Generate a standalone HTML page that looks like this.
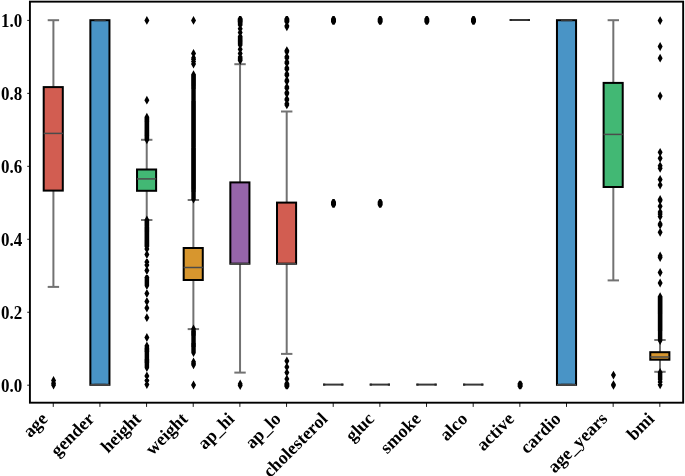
<!DOCTYPE html>
<html><head><meta charset="utf-8"><title>boxplot</title>
<style>html,body{margin:0;padding:0;background:#fff;width:685px;height:476px;overflow:hidden}svg{display:block;will-change:transform}</style>
</head><body>
<svg width="685" height="476" viewBox="0 0 685 476">
<style>.t,.ty{font-family:"Liberation Serif",serif;font-weight:bold;font-size:18px;fill:#000}.ty{font-size:17.6px}</style>
<rect width="685" height="476" fill="#fff"/>
<line x1="53.40" y1="20.2" x2="53.40" y2="87.1" stroke="#727272" stroke-width="2.0"/>
<line x1="53.40" y1="190.6" x2="53.40" y2="286.9" stroke="#727272" stroke-width="2.0"/>
<rect x="43.70" y="87.1" width="19.1" height="103.50" fill="#d25d51" stroke="#000" stroke-width="2.0" stroke-linejoin="miter"/>
<line x1="47.70" y1="20.2" x2="59.10" y2="20.2" stroke="#727272" stroke-width="2.0"/>
<line x1="47.70" y1="286.9" x2="59.10" y2="286.9" stroke="#727272" stroke-width="2.0"/>
<line x1="43.70" y1="133.4" x2="62.80" y2="133.4" stroke="#4b4b4b" stroke-width="1.5"/>
<path d="M53.55 376.10L56.05 380.50L53.55 384.90L51.05 380.50ZM53.55 378.90L56.05 383.30L53.55 387.70L51.05 383.30ZM53.55 380.60L56.05 385.00L53.55 389.40L51.05 385.00Z" fill="#000"/>
<line x1="100.06" y1="20.2" x2="100.06" y2="20.2" stroke="#727272" stroke-width="2.0"/>
<line x1="100.06" y1="384.8" x2="100.06" y2="384.8" stroke="#727272" stroke-width="2.0"/>
<rect x="90.36" y="20.2" width="19.1" height="364.60" fill="#4994c6" stroke="#000" stroke-width="2.0" stroke-linejoin="miter"/>
<line x1="94.36" y1="20.2" x2="105.76" y2="20.2" stroke="#363636" stroke-width="2.0"/>
<line x1="94.36" y1="384.8" x2="105.76" y2="384.8" stroke="#363636" stroke-width="2.0"/>
<line x1="90.36" y1="384.8" x2="109.46" y2="384.8" stroke="#4b4b4b" stroke-width="1.5"/>
<line x1="146.72" y1="139.8" x2="146.72" y2="169.5" stroke="#727272" stroke-width="2.0"/>
<line x1="146.72" y1="190.8" x2="146.72" y2="220.0" stroke="#727272" stroke-width="2.0"/>
<rect x="137.02" y="169.5" width="19.1" height="21.30" fill="#42b874" stroke="#000" stroke-width="2.0" stroke-linejoin="miter"/>
<line x1="141.02" y1="139.8" x2="152.42" y2="139.8" stroke="#727272" stroke-width="2.0"/>
<line x1="141.02" y1="220.0" x2="152.42" y2="220.0" stroke="#727272" stroke-width="2.0"/>
<line x1="137.02" y1="178.9" x2="156.12" y2="178.9" stroke="#4b4b4b" stroke-width="1.5"/>
<path d="M146.87 16.00L149.37 20.40L146.87 24.80L144.37 20.40ZM146.87 95.80L149.37 100.20L146.87 104.60L144.37 100.20ZM146.87 112.80L149.37 117.20L146.87 121.60L144.37 117.20ZM146.87 113.78L149.37 118.18L146.87 122.58L144.37 118.18ZM146.87 114.77L149.37 119.17L146.87 123.57L144.37 119.17ZM146.87 115.75L149.37 120.15L146.87 124.55L144.37 120.15ZM146.87 116.73L149.37 121.13L146.87 125.53L144.37 121.13ZM146.87 117.71L149.37 122.11L146.87 126.51L144.37 122.11ZM146.87 118.70L149.37 123.10L146.87 127.50L144.37 123.10ZM146.87 119.68L149.37 124.08L146.87 128.48L144.37 124.08ZM146.87 120.66L149.37 125.06L146.87 129.46L144.37 125.06ZM146.87 121.64L149.37 126.04L146.87 130.44L144.37 126.04ZM146.87 122.63L149.37 127.03L146.87 131.43L144.37 127.03ZM146.87 123.61L149.37 128.01L146.87 132.41L144.37 128.01ZM146.87 124.59L149.37 128.99L146.87 133.39L144.37 128.99ZM146.87 125.57L149.37 129.97L146.87 134.37L144.37 129.97ZM146.87 126.56L149.37 130.96L146.87 135.36L144.37 130.96ZM146.87 127.54L149.37 131.94L146.87 136.34L144.37 131.94ZM146.87 128.52L149.37 132.92L146.87 137.32L144.37 132.92ZM146.87 129.50L149.37 133.90L146.87 138.30L144.37 133.90ZM146.87 130.49L149.37 134.89L146.87 139.29L144.37 134.89ZM146.87 131.47L149.37 135.87L146.87 140.27L144.37 135.87ZM146.87 132.45L149.37 136.85L146.87 141.25L144.37 136.85ZM146.87 133.43L149.37 137.83L146.87 142.23L144.37 137.83ZM146.87 134.42L149.37 138.82L146.87 143.22L144.37 138.82ZM146.87 135.40L149.37 139.80L146.87 144.20L144.37 139.80ZM146.87 215.60L149.37 220.00L146.87 224.40L144.37 220.00ZM146.87 216.62L149.37 221.02L146.87 225.42L144.37 221.02ZM146.87 217.64L149.37 222.04L146.87 226.44L144.37 222.04ZM146.87 218.66L149.37 223.06L146.87 227.46L144.37 223.06ZM146.87 219.68L149.37 224.08L146.87 228.48L144.37 224.08ZM146.87 220.70L149.37 225.10L146.87 229.50L144.37 225.10ZM146.87 221.72L149.37 226.12L146.87 230.52L144.37 226.12ZM146.87 222.73L149.37 227.13L146.87 231.53L144.37 227.13ZM146.87 223.75L149.37 228.15L146.87 232.55L144.37 228.15ZM146.87 224.77L149.37 229.17L146.87 233.57L144.37 229.17ZM146.87 225.79L149.37 230.19L146.87 234.59L144.37 230.19ZM146.87 226.81L149.37 231.21L146.87 235.61L144.37 231.21ZM146.87 227.83L149.37 232.23L146.87 236.63L144.37 232.23ZM146.87 228.85L149.37 233.25L146.87 237.65L144.37 233.25ZM146.87 229.87L149.37 234.27L146.87 238.67L144.37 234.27ZM146.87 230.89L149.37 235.29L146.87 239.69L144.37 235.29ZM146.87 231.91L149.37 236.31L146.87 240.71L144.37 236.31ZM146.87 232.93L149.37 237.33L146.87 241.73L144.37 237.33ZM146.87 233.95L149.37 238.35L146.87 242.75L144.37 238.35ZM146.87 234.97L149.37 239.37L146.87 243.77L144.37 239.37ZM146.87 235.98L149.37 240.38L146.87 244.78L144.37 240.38ZM146.87 237.00L149.37 241.40L146.87 245.80L144.37 241.40ZM146.87 238.02L149.37 242.42L146.87 246.82L144.37 242.42ZM146.87 239.04L149.37 243.44L146.87 247.84L144.37 243.44ZM146.87 240.06L149.37 244.46L146.87 248.86L144.37 244.46ZM146.87 241.08L149.37 245.48L146.87 249.88L144.37 245.48ZM146.87 242.10L149.37 246.50L146.87 250.90L144.37 246.50ZM146.87 244.60L149.37 249.00L146.87 253.40L144.37 249.00ZM146.87 250.10L149.37 254.50L146.87 258.90L144.37 254.50ZM146.87 257.60L149.37 262.00L146.87 266.40L144.37 262.00ZM146.87 260.60L149.37 265.00L146.87 269.40L144.37 265.00ZM146.87 266.10L149.37 270.50L146.87 274.90L144.37 270.50ZM146.87 273.10L149.37 277.50L146.87 281.90L144.37 277.50ZM146.87 274.10L149.37 278.50L146.87 282.90L144.37 278.50ZM146.87 275.10L149.37 279.50L146.87 283.90L144.37 279.50ZM146.87 276.10L149.37 280.50L146.87 284.90L144.37 280.50ZM146.87 277.10L149.37 281.50L146.87 285.90L144.37 281.50ZM146.87 278.10L149.37 282.50L146.87 286.90L144.37 282.50ZM146.87 279.10L149.37 283.50L146.87 287.90L144.37 283.50ZM146.87 280.10L149.37 284.50L146.87 288.90L144.37 284.50ZM146.87 281.10L149.37 285.50L146.87 289.90L144.37 285.50ZM146.87 289.10L149.37 293.50L146.87 297.90L144.37 293.50ZM146.87 297.10L149.37 301.50L146.87 305.90L144.37 301.50ZM146.87 303.60L149.37 308.00L146.87 312.40L144.37 308.00ZM146.87 313.30L149.37 317.70L146.87 322.10L144.37 317.70ZM146.87 333.10L149.37 337.50L146.87 341.90L144.37 337.50ZM146.87 341.60L149.37 346.00L146.87 350.40L144.37 346.00ZM146.87 342.58L149.37 346.98L146.87 351.38L144.37 346.98ZM146.87 343.55L149.37 347.95L146.87 352.35L144.37 347.95ZM146.87 344.53L149.37 348.93L146.87 353.33L144.37 348.93ZM146.87 345.51L149.37 349.91L146.87 354.31L144.37 349.91ZM146.87 346.49L149.37 350.89L146.87 355.29L144.37 350.89ZM146.87 347.46L149.37 351.86L146.87 356.26L144.37 351.86ZM146.87 348.44L149.37 352.84L146.87 357.24L144.37 352.84ZM146.87 349.42L149.37 353.82L146.87 358.22L144.37 353.82ZM146.87 350.40L149.37 354.80L146.87 359.20L144.37 354.80ZM146.87 351.37L149.37 355.77L146.87 360.17L144.37 355.77ZM146.87 352.35L149.37 356.75L146.87 361.15L144.37 356.75ZM146.87 353.33L149.37 357.73L146.87 362.13L144.37 357.73ZM146.87 354.30L149.37 358.70L146.87 363.10L144.37 358.70ZM146.87 355.28L149.37 359.68L146.87 364.08L144.37 359.68ZM146.87 356.26L149.37 360.66L146.87 365.06L144.37 360.66ZM146.87 357.24L149.37 361.64L146.87 366.04L144.37 361.64ZM146.87 358.21L149.37 362.61L146.87 367.01L144.37 362.61ZM146.87 359.19L149.37 363.59L146.87 367.99L144.37 363.59ZM146.87 360.17L149.37 364.57L146.87 368.97L144.37 364.57ZM146.87 361.15L149.37 365.55L146.87 369.95L144.37 365.55ZM146.87 362.12L149.37 366.52L146.87 370.92L144.37 366.52ZM146.87 363.10L149.37 367.50L146.87 371.90L144.37 367.50ZM146.87 371.60L149.37 376.00L146.87 380.40L144.37 376.00ZM146.87 376.10L149.37 380.50L146.87 384.90L144.37 380.50ZM146.87 380.10L149.37 384.50L146.87 388.90L144.37 384.50Z" fill="#000"/>
<line x1="193.38" y1="200.0" x2="193.38" y2="248.0" stroke="#727272" stroke-width="2.0"/>
<line x1="193.38" y1="280.0" x2="193.38" y2="329.1" stroke="#727272" stroke-width="2.0"/>
<rect x="183.68" y="248.0" width="19.1" height="32.00" fill="#d7962e" stroke="#000" stroke-width="2.0" stroke-linejoin="miter"/>
<line x1="187.68" y1="200.0" x2="199.08" y2="200.0" stroke="#727272" stroke-width="2.0"/>
<line x1="187.68" y1="329.1" x2="199.08" y2="329.1" stroke="#727272" stroke-width="2.0"/>
<line x1="183.68" y1="267.5" x2="202.78" y2="267.5" stroke="#4b4b4b" stroke-width="1.5"/>
<path d="M193.53 16.00L196.03 20.40L193.53 24.80L191.03 20.40ZM193.53 49.10L196.03 53.50L193.53 57.90L191.03 53.50ZM193.53 53.60L196.03 58.00L193.53 62.40L191.03 58.00ZM193.53 55.10L196.03 59.50L193.53 63.90L191.03 59.50ZM193.53 57.10L196.03 61.50L193.53 65.90L191.03 61.50ZM193.53 59.60L196.03 64.00L193.53 68.40L191.03 64.00ZM193.53 70.30L196.03 74.70L193.53 79.10L191.03 74.70ZM193.53 71.30L196.03 75.70L193.53 80.10L191.03 75.70ZM193.53 72.30L196.03 76.70L193.53 81.10L191.03 76.70ZM193.53 73.31L196.03 77.71L193.53 82.11L191.03 77.71ZM193.53 74.31L196.03 78.71L193.53 83.11L191.03 78.71ZM193.53 75.31L196.03 79.71L193.53 84.11L191.03 79.71ZM193.53 76.31L196.03 80.71L193.53 85.11L191.03 80.71ZM193.53 77.32L196.03 81.72L193.53 86.12L191.03 81.72ZM193.53 78.32L196.03 82.72L193.53 87.12L191.03 82.72ZM193.53 79.32L196.03 83.72L193.53 88.12L191.03 83.72ZM193.53 80.32L196.03 84.72L193.53 89.12L191.03 84.72ZM193.53 81.33L196.03 85.73L193.53 90.13L191.03 85.73ZM193.53 82.33L196.03 86.73L193.53 91.13L191.03 86.73ZM193.53 83.33L196.03 87.73L193.53 92.13L191.03 87.73ZM193.53 84.33L196.03 88.73L193.53 93.13L191.03 88.73ZM193.53 85.34L196.03 89.74L193.53 94.14L191.03 89.74ZM193.53 86.34L196.03 90.74L193.53 95.14L191.03 90.74ZM193.53 87.34L196.03 91.74L193.53 96.14L191.03 91.74ZM193.53 88.34L196.03 92.74L193.53 97.14L191.03 92.74ZM193.53 89.35L196.03 93.75L193.53 98.15L191.03 93.75ZM193.53 90.35L196.03 94.75L193.53 99.15L191.03 94.75ZM193.53 91.35L196.03 95.75L193.53 100.15L191.03 95.75ZM193.53 92.35L196.03 96.75L193.53 101.15L191.03 96.75ZM193.53 93.36L196.03 97.76L193.53 102.16L191.03 97.76ZM193.53 94.36L196.03 98.76L193.53 103.16L191.03 98.76ZM193.53 95.36L196.03 99.76L193.53 104.16L191.03 99.76ZM193.53 96.36L196.03 100.76L193.53 105.16L191.03 100.76ZM193.53 97.37L196.03 101.77L193.53 106.17L191.03 101.77ZM193.53 98.37L196.03 102.77L193.53 107.17L191.03 102.77ZM193.53 99.37L196.03 103.77L193.53 108.17L191.03 103.77ZM193.53 100.37L196.03 104.77L193.53 109.17L191.03 104.77ZM193.53 101.38L196.03 105.78L193.53 110.18L191.03 105.78ZM193.53 102.38L196.03 106.78L193.53 111.18L191.03 106.78ZM193.53 103.38L196.03 107.78L193.53 112.18L191.03 107.78ZM193.53 104.38L196.03 108.78L193.53 113.18L191.03 108.78ZM193.53 105.38L196.03 109.78L193.53 114.18L191.03 109.78ZM193.53 106.39L196.03 110.79L193.53 115.19L191.03 110.79ZM193.53 107.39L196.03 111.79L193.53 116.19L191.03 111.79ZM193.53 108.39L196.03 112.79L193.53 117.19L191.03 112.79ZM193.53 109.39L196.03 113.79L193.53 118.19L191.03 113.79ZM193.53 110.40L196.03 114.80L193.53 119.20L191.03 114.80ZM193.53 111.40L196.03 115.80L193.53 120.20L191.03 115.80ZM193.53 112.40L196.03 116.80L193.53 121.20L191.03 116.80ZM193.53 113.40L196.03 117.80L193.53 122.20L191.03 117.80ZM193.53 114.41L196.03 118.81L193.53 123.21L191.03 118.81ZM193.53 115.41L196.03 119.81L193.53 124.21L191.03 119.81ZM193.53 116.41L196.03 120.81L193.53 125.21L191.03 120.81ZM193.53 117.41L196.03 121.81L193.53 126.21L191.03 121.81ZM193.53 118.42L196.03 122.82L193.53 127.22L191.03 122.82ZM193.53 119.42L196.03 123.82L193.53 128.22L191.03 123.82ZM193.53 120.42L196.03 124.82L193.53 129.22L191.03 124.82ZM193.53 121.42L196.03 125.82L193.53 130.22L191.03 125.82ZM193.53 122.43L196.03 126.83L193.53 131.23L191.03 126.83ZM193.53 123.43L196.03 127.83L193.53 132.23L191.03 127.83ZM193.53 124.43L196.03 128.83L193.53 133.23L191.03 128.83ZM193.53 125.43L196.03 129.83L193.53 134.23L191.03 129.83ZM193.53 126.44L196.03 130.84L193.53 135.24L191.03 130.84ZM193.53 127.44L196.03 131.84L193.53 136.24L191.03 131.84ZM193.53 128.44L196.03 132.84L193.53 137.24L191.03 132.84ZM193.53 129.44L196.03 133.84L193.53 138.24L191.03 133.84ZM193.53 130.45L196.03 134.85L193.53 139.25L191.03 134.85ZM193.53 131.45L196.03 135.85L193.53 140.25L191.03 135.85ZM193.53 132.45L196.03 136.85L193.53 141.25L191.03 136.85ZM193.53 133.45L196.03 137.85L193.53 142.25L191.03 137.85ZM193.53 134.45L196.03 138.85L193.53 143.25L191.03 138.85ZM193.53 135.46L196.03 139.86L193.53 144.26L191.03 139.86ZM193.53 136.46L196.03 140.86L193.53 145.26L191.03 140.86ZM193.53 137.46L196.03 141.86L193.53 146.26L191.03 141.86ZM193.53 138.46L196.03 142.86L193.53 147.26L191.03 142.86ZM193.53 139.47L196.03 143.87L193.53 148.27L191.03 143.87ZM193.53 140.47L196.03 144.87L193.53 149.27L191.03 144.87ZM193.53 141.47L196.03 145.87L193.53 150.27L191.03 145.87ZM193.53 142.47L196.03 146.87L193.53 151.27L191.03 146.87ZM193.53 143.48L196.03 147.88L193.53 152.28L191.03 147.88ZM193.53 144.48L196.03 148.88L193.53 153.28L191.03 148.88ZM193.53 145.48L196.03 149.88L193.53 154.28L191.03 149.88ZM193.53 146.48L196.03 150.88L193.53 155.28L191.03 150.88ZM193.53 147.49L196.03 151.89L193.53 156.29L191.03 151.89ZM193.53 148.49L196.03 152.89L193.53 157.29L191.03 152.89ZM193.53 149.49L196.03 153.89L193.53 158.29L191.03 153.89ZM193.53 150.49L196.03 154.89L193.53 159.29L191.03 154.89ZM193.53 151.50L196.03 155.90L193.53 160.30L191.03 155.90ZM193.53 152.50L196.03 156.90L193.53 161.30L191.03 156.90ZM193.53 153.50L196.03 157.90L193.53 162.30L191.03 157.90ZM193.53 154.50L196.03 158.90L193.53 163.30L191.03 158.90ZM193.53 155.51L196.03 159.91L193.53 164.31L191.03 159.91ZM193.53 156.51L196.03 160.91L193.53 165.31L191.03 160.91ZM193.53 157.51L196.03 161.91L193.53 166.31L191.03 161.91ZM193.53 158.51L196.03 162.91L193.53 167.31L191.03 162.91ZM193.53 159.52L196.03 163.92L193.53 168.32L191.03 163.92ZM193.53 160.52L196.03 164.92L193.53 169.32L191.03 164.92ZM193.53 161.52L196.03 165.92L193.53 170.32L191.03 165.92ZM193.53 162.52L196.03 166.92L193.53 171.32L191.03 166.92ZM193.53 163.53L196.03 167.93L193.53 172.33L191.03 167.93ZM193.53 164.53L196.03 168.93L193.53 173.33L191.03 168.93ZM193.53 165.53L196.03 169.93L193.53 174.33L191.03 169.93ZM193.53 166.53L196.03 170.93L193.53 175.33L191.03 170.93ZM193.53 167.53L196.03 171.93L193.53 176.33L191.03 171.93ZM193.53 168.54L196.03 172.94L193.53 177.34L191.03 172.94ZM193.53 169.54L196.03 173.94L193.53 178.34L191.03 173.94ZM193.53 170.54L196.03 174.94L193.53 179.34L191.03 174.94ZM193.53 171.54L196.03 175.94L193.53 180.34L191.03 175.94ZM193.53 172.55L196.03 176.95L193.53 181.35L191.03 176.95ZM193.53 173.55L196.03 177.95L193.53 182.35L191.03 177.95ZM193.53 174.55L196.03 178.95L193.53 183.35L191.03 178.95ZM193.53 175.55L196.03 179.95L193.53 184.35L191.03 179.95ZM193.53 176.56L196.03 180.96L193.53 185.36L191.03 180.96ZM193.53 177.56L196.03 181.96L193.53 186.36L191.03 181.96ZM193.53 178.56L196.03 182.96L193.53 187.36L191.03 182.96ZM193.53 179.56L196.03 183.96L193.53 188.36L191.03 183.96ZM193.53 180.57L196.03 184.97L193.53 189.37L191.03 184.97ZM193.53 181.57L196.03 185.97L193.53 190.37L191.03 185.97ZM193.53 182.57L196.03 186.97L193.53 191.37L191.03 186.97ZM193.53 183.57L196.03 187.97L193.53 192.37L191.03 187.97ZM193.53 184.58L196.03 188.98L193.53 193.38L191.03 188.98ZM193.53 185.58L196.03 189.98L193.53 194.38L191.03 189.98ZM193.53 186.58L196.03 190.98L193.53 195.38L191.03 190.98ZM193.53 187.58L196.03 191.98L193.53 196.38L191.03 191.98ZM193.53 188.59L196.03 192.99L193.53 197.39L191.03 192.99ZM193.53 189.59L196.03 193.99L193.53 198.39L191.03 193.99ZM193.53 190.59L196.03 194.99L193.53 199.39L191.03 194.99ZM193.53 191.59L196.03 195.99L193.53 200.39L191.03 195.99ZM193.53 192.60L196.03 197.00L193.53 201.40L191.03 197.00ZM193.53 193.60L196.03 198.00L193.53 202.40L191.03 198.00ZM193.53 194.60L196.03 199.00L193.53 203.40L191.03 199.00ZM193.53 324.60L196.03 329.00L193.53 333.40L191.03 329.00ZM193.53 325.58L196.03 329.98L193.53 334.38L191.03 329.98ZM193.53 326.56L196.03 330.96L193.53 335.36L191.03 330.96ZM193.53 327.54L196.03 331.94L193.53 336.34L191.03 331.94ZM193.53 328.52L196.03 332.92L193.53 337.32L191.03 332.92ZM193.53 329.50L196.03 333.90L193.53 338.30L191.03 333.90ZM193.53 330.48L196.03 334.88L193.53 339.27L191.03 334.88ZM193.53 331.45L196.03 335.85L193.53 340.25L191.03 335.85ZM193.53 332.43L196.03 336.83L193.53 341.23L191.03 336.83ZM193.53 333.41L196.03 337.81L193.53 342.21L191.03 337.81ZM193.53 334.39L196.03 338.79L193.53 343.19L191.03 338.79ZM193.53 335.37L196.03 339.77L193.53 344.17L191.03 339.77ZM193.53 336.35L196.03 340.75L193.53 345.15L191.03 340.75ZM193.53 337.33L196.03 341.73L193.53 346.13L191.03 341.73ZM193.53 338.31L196.03 342.71L193.53 347.11L191.03 342.71ZM193.53 339.29L196.03 343.69L193.53 348.09L191.03 343.69ZM193.53 340.27L196.03 344.67L193.53 349.07L191.03 344.67ZM193.53 341.25L196.03 345.65L193.53 350.05L191.03 345.65ZM193.53 342.23L196.03 346.62L193.53 351.02L191.03 346.62ZM193.53 343.20L196.03 347.60L193.53 352.00L191.03 347.60ZM193.53 344.18L196.03 348.58L193.53 352.98L191.03 348.58ZM193.53 345.16L196.03 349.56L193.53 353.96L191.03 349.56ZM193.53 346.14L196.03 350.54L193.53 354.94L191.03 350.54ZM193.53 347.12L196.03 351.52L193.53 355.92L191.03 351.52ZM193.53 348.10L196.03 352.50L193.53 356.90L191.03 352.50ZM193.53 357.60L196.03 362.00L193.53 366.40L191.03 362.00ZM193.53 358.90L196.03 363.30L193.53 367.70L191.03 363.30ZM193.53 360.40L196.03 364.80L193.53 369.20L191.03 364.80ZM193.53 380.60L196.03 385.00L193.53 389.40L191.03 385.00Z" fill="#000"/>
<line x1="240.04" y1="64.2" x2="240.04" y2="182.4" stroke="#727272" stroke-width="2.0"/>
<line x1="240.04" y1="263.7" x2="240.04" y2="372.6" stroke="#727272" stroke-width="2.0"/>
<rect x="230.34" y="182.4" width="19.1" height="81.30" fill="#9665aa" stroke="#000" stroke-width="2.0" stroke-linejoin="miter"/>
<line x1="234.34" y1="64.2" x2="245.74" y2="64.2" stroke="#727272" stroke-width="2.0"/>
<line x1="234.34" y1="372.6" x2="245.74" y2="372.6" stroke="#727272" stroke-width="2.0"/>
<line x1="230.34" y1="263.7" x2="249.44" y2="263.7" stroke="#4b4b4b" stroke-width="1.5"/>
<path d="M240.19 15.90L242.69 20.30L240.19 24.70L237.69 20.30ZM240.19 16.82L242.69 21.22L240.19 25.62L237.69 21.22ZM240.19 17.74L242.69 22.14L240.19 26.54L237.69 22.14ZM240.19 18.66L242.69 23.06L240.19 27.46L237.69 23.06ZM240.19 19.58L242.69 23.98L240.19 28.38L237.69 23.98ZM240.19 20.50L242.69 24.90L240.19 29.30L237.69 24.90ZM240.19 24.40L242.69 28.80L240.19 33.20L237.69 28.80ZM240.19 28.20L242.69 32.60L240.19 37.00L237.69 32.60ZM240.19 32.10L242.69 36.50L240.19 40.90L237.69 36.50ZM240.19 33.15L242.69 37.55L240.19 41.95L237.69 37.55ZM240.19 34.20L242.69 38.60L240.19 43.00L237.69 38.60ZM240.19 35.25L242.69 39.65L240.19 44.05L237.69 39.65ZM240.19 36.30L242.69 40.70L240.19 45.10L237.69 40.70ZM240.19 37.35L242.69 41.75L240.19 46.15L237.69 41.75ZM240.19 38.40L242.69 42.80L240.19 47.20L237.69 42.80ZM240.19 39.45L242.69 43.85L240.19 48.25L237.69 43.85ZM240.19 40.50L242.69 44.90L240.19 49.30L237.69 44.90ZM240.19 44.90L242.69 49.30L240.19 53.70L237.69 49.30ZM240.19 49.00L242.69 53.40L240.19 57.80L237.69 53.40ZM240.19 52.70L242.69 57.10L240.19 61.50L237.69 57.10ZM240.19 53.83L242.69 58.23L240.19 62.63L237.69 58.23ZM240.19 54.97L242.69 59.37L240.19 63.77L237.69 59.37ZM240.19 56.10L242.69 60.50L240.19 64.90L237.69 60.50ZM240.19 379.60L242.69 384.00L240.19 388.40L237.69 384.00ZM240.19 381.10L242.69 385.50L240.19 389.90L237.69 385.50ZM239.19 16.00L241.19 16.00L242.69 18.70L242.69 21.90L241.19 24.60L239.19 24.60L237.69 21.90L237.69 18.70Z" fill="#000"/>
<line x1="286.70" y1="111.5" x2="286.70" y2="202.6" stroke="#727272" stroke-width="2.0"/>
<line x1="286.70" y1="263.7" x2="286.70" y2="353.9" stroke="#727272" stroke-width="2.0"/>
<rect x="277.00" y="202.6" width="19.1" height="61.10" fill="#d25d51" stroke="#000" stroke-width="2.0" stroke-linejoin="miter"/>
<line x1="281.00" y1="111.5" x2="292.40" y2="111.5" stroke="#727272" stroke-width="2.0"/>
<line x1="281.00" y1="353.9" x2="292.40" y2="353.9" stroke="#727272" stroke-width="2.0"/>
<line x1="277.00" y1="263.7" x2="296.10" y2="263.7" stroke="#4b4b4b" stroke-width="1.5"/>
<path d="M286.85 21.40L289.35 25.80L286.85 30.20L284.35 25.80ZM286.85 22.40L289.35 26.80L286.85 31.20L284.35 26.80ZM286.85 46.20L289.35 50.60L286.85 55.00L284.35 50.60ZM286.85 47.40L289.35 51.80L286.85 56.20L284.35 51.80ZM286.85 52.30L289.35 56.70L286.85 61.10L284.35 56.70ZM286.85 53.50L289.35 57.90L286.85 62.30L284.35 57.90ZM286.85 57.60L289.35 62.00L286.85 66.40L284.35 62.00ZM286.85 58.80L289.35 63.20L286.85 67.60L284.35 63.20ZM286.85 63.60L289.35 68.00L286.85 72.40L284.35 68.00ZM286.85 64.80L289.35 69.20L286.85 73.60L284.35 69.20ZM286.85 69.70L289.35 74.10L286.85 78.50L284.35 74.10ZM286.85 70.90L289.35 75.30L286.85 79.70L284.35 75.30ZM286.85 75.80L289.35 80.20L286.85 84.60L284.35 80.20ZM286.85 77.00L289.35 81.40L286.85 85.80L284.35 81.40ZM286.85 82.60L289.35 87.00L286.85 91.40L284.35 87.00ZM286.85 83.80L289.35 88.20L286.85 92.60L284.35 88.20ZM286.85 88.20L289.35 92.60L286.85 97.00L284.35 92.60ZM286.85 89.40L289.35 93.80L286.85 98.20L284.35 93.80ZM286.85 94.50L289.35 98.90L286.85 103.30L284.35 98.90ZM286.85 95.70L289.35 100.10L286.85 104.50L284.35 100.10ZM286.85 99.30L289.35 103.70L286.85 108.10L284.35 103.70ZM286.85 100.50L289.35 104.90L286.85 109.30L284.35 104.90ZM286.85 356.60L289.35 361.00L286.85 365.40L284.35 361.00ZM286.85 362.60L289.35 367.00L286.85 371.40L284.35 367.00ZM286.85 368.20L289.35 372.60L286.85 377.00L284.35 372.60ZM286.85 374.50L289.35 378.90L286.85 383.30L284.35 378.90ZM286.85 380.20L289.35 384.60L286.85 389.00L284.35 384.60ZM285.85 16.00L287.85 16.00L289.35 18.70L289.35 21.90L287.85 24.60L285.85 24.60L284.35 21.90L284.35 18.70ZM285.85 380.70L287.85 380.70L289.35 383.40L289.35 386.60L287.85 389.30L285.85 389.30L284.35 386.60L284.35 383.40Z" fill="#000"/>
<line x1="323.06" y1="384.6" x2="343.36" y2="384.6" stroke="#383838" stroke-width="2.0"/>
<line x1="323.06" y1="384.6" x2="325.26" y2="384.6" stroke="#262626" stroke-width="2.0"/>
<line x1="341.16" y1="384.6" x2="343.36" y2="384.6" stroke="#262626" stroke-width="2.0"/>
<path d="M332.51 199.10L334.51 199.10L336.01 201.80L336.01 205.00L334.51 207.70L332.51 207.70L331.01 205.00L331.01 201.80ZM332.51 16.10L334.51 16.10L336.01 18.80L336.01 22.00L334.51 24.70L332.51 24.70L331.01 22.00L331.01 18.80Z" fill="#000"/>
<line x1="369.72" y1="384.6" x2="390.02" y2="384.6" stroke="#383838" stroke-width="2.0"/>
<line x1="369.72" y1="384.6" x2="371.92" y2="384.6" stroke="#262626" stroke-width="2.0"/>
<line x1="387.82" y1="384.6" x2="390.02" y2="384.6" stroke="#262626" stroke-width="2.0"/>
<path d="M379.17 199.10L381.17 199.10L382.67 201.80L382.67 205.00L381.17 207.70L379.17 207.70L377.67 205.00L377.67 201.80ZM379.17 16.10L381.17 16.10L382.67 18.80L382.67 22.00L381.17 24.70L379.17 24.70L377.67 22.00L377.67 18.80Z" fill="#000"/>
<line x1="416.38" y1="384.6" x2="436.68" y2="384.6" stroke="#383838" stroke-width="2.0"/>
<line x1="416.38" y1="384.6" x2="418.58" y2="384.6" stroke="#262626" stroke-width="2.0"/>
<line x1="434.48" y1="384.6" x2="436.68" y2="384.6" stroke="#262626" stroke-width="2.0"/>
<path d="M425.83 16.10L427.83 16.10L429.33 18.80L429.33 22.00L427.83 24.70L425.83 24.70L424.33 22.00L424.33 18.80Z" fill="#000"/>
<line x1="463.04" y1="384.6" x2="483.34" y2="384.6" stroke="#383838" stroke-width="2.0"/>
<line x1="463.04" y1="384.6" x2="465.24" y2="384.6" stroke="#262626" stroke-width="2.0"/>
<line x1="481.14" y1="384.6" x2="483.34" y2="384.6" stroke="#262626" stroke-width="2.0"/>
<path d="M472.49 16.10L474.49 16.10L475.99 18.80L475.99 22.00L474.49 24.70L472.49 24.70L470.99 22.00L470.99 18.80Z" fill="#000"/>
<line x1="509.70" y1="20.0" x2="530.00" y2="20.0" stroke="#383838" stroke-width="2.0"/>
<line x1="509.70" y1="20.0" x2="511.90" y2="20.0" stroke="#262626" stroke-width="2.0"/>
<line x1="527.80" y1="20.0" x2="530.00" y2="20.0" stroke="#262626" stroke-width="2.0"/>
<path d="M519.15 380.70L521.15 380.70L522.65 383.40L522.65 386.60L521.15 389.30L519.15 389.30L517.65 386.60L517.65 383.40Z" fill="#000"/>
<line x1="566.66" y1="20.2" x2="566.66" y2="20.2" stroke="#727272" stroke-width="2.0"/>
<line x1="566.66" y1="384.8" x2="566.66" y2="384.8" stroke="#727272" stroke-width="2.0"/>
<rect x="556.96" y="20.2" width="19.1" height="364.60" fill="#4994c6" stroke="#000" stroke-width="2.0" stroke-linejoin="miter"/>
<line x1="560.96" y1="20.2" x2="572.36" y2="20.2" stroke="#363636" stroke-width="2.0"/>
<line x1="560.96" y1="384.8" x2="572.36" y2="384.8" stroke="#363636" stroke-width="2.0"/>
<line x1="556.96" y1="384.8" x2="576.06" y2="384.8" stroke="#4b4b4b" stroke-width="1.5"/>
<line x1="613.32" y1="20.2" x2="613.32" y2="82.9" stroke="#727272" stroke-width="2.0"/>
<line x1="613.32" y1="187.0" x2="613.32" y2="280.4" stroke="#727272" stroke-width="2.0"/>
<rect x="603.62" y="82.9" width="19.1" height="104.10" fill="#42b874" stroke="#000" stroke-width="2.0" stroke-linejoin="miter"/>
<line x1="607.62" y1="20.2" x2="619.02" y2="20.2" stroke="#727272" stroke-width="2.0"/>
<line x1="607.62" y1="280.4" x2="619.02" y2="280.4" stroke="#727272" stroke-width="2.0"/>
<line x1="603.62" y1="134.4" x2="622.72" y2="134.4" stroke="#4b4b4b" stroke-width="1.5"/>
<path d="M613.47 370.70L615.97 375.10L613.47 379.50L610.97 375.10ZM613.47 380.20L615.97 384.60L613.47 389.00L610.97 384.60ZM613.47 381.00L615.97 385.40L613.47 389.80L610.97 385.40Z" fill="#000"/>
<line x1="659.98" y1="340.0" x2="659.98" y2="352.2" stroke="#727272" stroke-width="2.0"/>
<line x1="659.98" y1="359.7" x2="659.98" y2="371.8" stroke="#727272" stroke-width="2.0"/>
<rect x="650.28" y="352.2" width="19.1" height="7.50" fill="#d7962e" stroke="#000" stroke-width="2.0" stroke-linejoin="miter"/>
<line x1="654.28" y1="340.0" x2="665.68" y2="340.0" stroke="#727272" stroke-width="2.0"/>
<line x1="654.28" y1="371.8" x2="665.68" y2="371.8" stroke="#727272" stroke-width="2.0"/>
<line x1="650.28" y1="357.0" x2="669.38" y2="357.0" stroke="#4b4b4b" stroke-width="1.5"/>
<path d="M660.13 16.20L662.63 20.60L660.13 25.00L657.63 20.60ZM660.13 42.10L662.63 46.50L660.13 50.90L657.63 46.50ZM660.13 53.80L662.63 58.20L660.13 62.60L657.63 58.20ZM660.13 91.60L662.63 96.00L660.13 100.40L657.63 96.00ZM660.13 147.90L662.63 152.30L660.13 156.70L657.63 152.30ZM660.13 153.90L662.63 158.30L660.13 162.70L657.63 158.30ZM660.13 161.40L662.63 165.80L660.13 170.20L657.63 165.80ZM660.13 163.90L662.63 168.30L660.13 172.70L657.63 168.30ZM660.13 175.10L662.63 179.50L660.13 183.90L657.63 179.50ZM660.13 180.60L662.63 185.00L660.13 189.40L657.63 185.00ZM660.13 195.10L662.63 199.50L660.13 203.90L657.63 199.50ZM660.13 196.10L662.63 200.50L660.13 204.90L657.63 200.50ZM660.13 201.90L662.63 206.30L660.13 210.70L657.63 206.30ZM660.13 207.60L662.63 212.00L660.13 216.40L657.63 212.00ZM660.13 209.60L662.63 214.00L660.13 218.40L657.63 214.00ZM660.13 212.10L662.63 216.50L660.13 220.90L657.63 216.50ZM660.13 219.60L662.63 224.00L660.13 228.40L657.63 224.00ZM660.13 220.60L662.63 225.00L660.13 229.40L657.63 225.00ZM660.13 227.90L662.63 232.30L660.13 236.70L657.63 232.30ZM660.13 251.60L662.63 256.00L660.13 260.40L657.63 256.00ZM660.13 253.10L662.63 257.50L660.13 261.90L657.63 257.50ZM660.13 268.10L662.63 272.50L660.13 276.90L657.63 272.50ZM660.13 278.60L662.63 283.00L660.13 287.40L657.63 283.00ZM660.13 292.30L662.63 296.70L660.13 301.10L657.63 296.70ZM660.13 293.30L662.63 297.70L660.13 302.10L657.63 297.70ZM660.13 294.29L662.63 298.69L660.13 303.09L657.63 298.69ZM660.13 295.29L662.63 299.69L660.13 304.09L657.63 299.69ZM660.13 296.28L662.63 300.68L660.13 305.08L657.63 300.68ZM660.13 297.28L662.63 301.68L660.13 306.08L657.63 301.68ZM660.13 298.27L662.63 302.67L660.13 307.07L657.63 302.67ZM660.13 299.27L662.63 303.67L660.13 308.07L657.63 303.67ZM660.13 300.26L662.63 304.66L660.13 309.06L657.63 304.66ZM660.13 301.26L662.63 305.66L660.13 310.06L657.63 305.66ZM660.13 302.25L662.63 306.65L660.13 311.05L657.63 306.65ZM660.13 303.25L662.63 307.65L660.13 312.05L657.63 307.65ZM660.13 304.25L662.63 308.65L660.13 313.05L657.63 308.65ZM660.13 305.24L662.63 309.64L660.13 314.04L657.63 309.64ZM660.13 306.24L662.63 310.64L660.13 315.04L657.63 310.64ZM660.13 307.23L662.63 311.63L660.13 316.03L657.63 311.63ZM660.13 308.23L662.63 312.63L660.13 317.03L657.63 312.63ZM660.13 309.22L662.63 313.62L660.13 318.02L657.63 313.62ZM660.13 310.22L662.63 314.62L660.13 319.02L657.63 314.62ZM660.13 311.21L662.63 315.61L660.13 320.01L657.63 315.61ZM660.13 312.21L662.63 316.61L660.13 321.01L657.63 316.61ZM660.13 313.20L662.63 317.60L660.13 322.00L657.63 317.60ZM660.13 314.20L662.63 318.60L660.13 323.00L657.63 318.60ZM660.13 315.20L662.63 319.60L660.13 324.00L657.63 319.60ZM660.13 316.19L662.63 320.59L660.13 324.99L657.63 320.59ZM660.13 317.19L662.63 321.59L660.13 325.99L657.63 321.59ZM660.13 318.18L662.63 322.58L660.13 326.98L657.63 322.58ZM660.13 319.18L662.63 323.58L660.13 327.98L657.63 323.58ZM660.13 320.17L662.63 324.57L660.13 328.97L657.63 324.57ZM660.13 321.17L662.63 325.57L660.13 329.97L657.63 325.57ZM660.13 322.16L662.63 326.56L660.13 330.96L657.63 326.56ZM660.13 323.16L662.63 327.56L660.13 331.96L657.63 327.56ZM660.13 324.15L662.63 328.55L660.13 332.95L657.63 328.55ZM660.13 325.15L662.63 329.55L660.13 333.95L657.63 329.55ZM660.13 326.15L662.63 330.55L660.13 334.95L657.63 330.55ZM660.13 327.14L662.63 331.54L660.13 335.94L657.63 331.54ZM660.13 328.14L662.63 332.54L660.13 336.94L657.63 332.54ZM660.13 329.13L662.63 333.53L660.13 337.93L657.63 333.53ZM660.13 330.13L662.63 334.53L660.13 338.93L657.63 334.53ZM660.13 331.12L662.63 335.52L660.13 339.92L657.63 335.52ZM660.13 332.12L662.63 336.52L660.13 340.92L657.63 336.52ZM660.13 333.11L662.63 337.51L660.13 341.91L657.63 337.51ZM660.13 334.11L662.63 338.51L660.13 342.91L657.63 338.51ZM660.13 335.10L662.63 339.50L660.13 343.90L657.63 339.50ZM660.13 336.10L662.63 340.50L660.13 344.90L657.63 340.50ZM660.13 368.10L662.63 372.50L660.13 376.90L657.63 372.50ZM660.13 369.10L662.63 373.50L660.13 377.90L657.63 373.50ZM660.13 370.10L662.63 374.50L660.13 378.90L657.63 374.50ZM660.13 371.10L662.63 375.50L660.13 379.90L657.63 375.50ZM660.13 372.10L662.63 376.50L660.13 380.90L657.63 376.50ZM660.13 373.10L662.63 377.50L660.13 381.90L657.63 377.50ZM660.13 374.10L662.63 378.50L660.13 382.90L657.63 378.50ZM660.13 375.10L662.63 379.50L660.13 383.90L657.63 379.50ZM660.13 377.60L662.63 382.00L660.13 386.40L657.63 382.00ZM660.13 380.40L662.63 384.80L660.13 389.20L657.63 384.80Z" fill="#000"/>
<rect x="29.92" y="1.65" width="653.24" height="401.05" fill="none" stroke="#000" stroke-width="1.9"/>
<line x1="27.22" y1="385.20" x2="29.92" y2="385.20" stroke="#000" stroke-width="0.9"/>
<text transform="translate(22.3 391.90) scale(0.965 1.025)" text-anchor="end" class="ty">0.0</text>
<line x1="27.22" y1="312.24" x2="29.92" y2="312.24" stroke="#000" stroke-width="0.9"/>
<text transform="translate(22.3 318.94) scale(0.965 1.025)" text-anchor="end" class="ty">0.2</text>
<line x1="27.22" y1="239.28" x2="29.92" y2="239.28" stroke="#000" stroke-width="0.9"/>
<text transform="translate(22.3 245.98) scale(0.965 1.025)" text-anchor="end" class="ty">0.4</text>
<line x1="27.22" y1="166.32" x2="29.92" y2="166.32" stroke="#000" stroke-width="0.9"/>
<text transform="translate(22.3 173.02) scale(0.965 1.025)" text-anchor="end" class="ty">0.6</text>
<line x1="27.22" y1="93.36" x2="29.92" y2="93.36" stroke="#000" stroke-width="0.9"/>
<text transform="translate(22.3 100.06) scale(0.965 1.025)" text-anchor="end" class="ty">0.8</text>
<line x1="27.22" y1="20.40" x2="29.92" y2="20.40" stroke="#000" stroke-width="0.9"/>
<text transform="translate(22.3 27.10) scale(0.965 1.025)" text-anchor="end" class="ty">1.0</text>
<line x1="53.25" y1="402.7" x2="53.25" y2="406.90" stroke="#000" stroke-width="0.9"/>
<line x1="99.91" y1="402.7" x2="99.91" y2="406.90" stroke="#000" stroke-width="0.9"/>
<line x1="146.57" y1="402.7" x2="146.57" y2="406.90" stroke="#000" stroke-width="0.9"/>
<line x1="193.23" y1="402.7" x2="193.23" y2="406.90" stroke="#000" stroke-width="0.9"/>
<line x1="239.89" y1="402.7" x2="239.89" y2="406.90" stroke="#000" stroke-width="0.9"/>
<line x1="286.55" y1="402.7" x2="286.55" y2="406.90" stroke="#000" stroke-width="0.9"/>
<line x1="333.21" y1="402.7" x2="333.21" y2="406.90" stroke="#000" stroke-width="0.9"/>
<line x1="379.87" y1="402.7" x2="379.87" y2="406.90" stroke="#000" stroke-width="0.9"/>
<line x1="426.53" y1="402.7" x2="426.53" y2="406.90" stroke="#000" stroke-width="0.9"/>
<line x1="473.19" y1="402.7" x2="473.19" y2="406.90" stroke="#000" stroke-width="0.9"/>
<line x1="519.85" y1="402.7" x2="519.85" y2="406.90" stroke="#000" stroke-width="0.9"/>
<line x1="566.51" y1="402.7" x2="566.51" y2="406.90" stroke="#000" stroke-width="0.9"/>
<line x1="613.17" y1="402.7" x2="613.17" y2="406.90" stroke="#000" stroke-width="0.9"/>
<line x1="659.83" y1="402.7" x2="659.83" y2="406.90" stroke="#000" stroke-width="0.9"/>
<text x="48.65" y="419.90" text-anchor="end" class="t" transform="rotate(-45 48.65 419.90)">age</text>
<text x="95.31" y="419.90" text-anchor="end" class="t" transform="rotate(-45 95.31 419.90)">gender</text>
<text x="141.97" y="419.90" text-anchor="end" class="t" transform="rotate(-45 141.97 419.90)">height</text>
<text x="188.63" y="419.90" text-anchor="end" class="t" transform="rotate(-45 188.63 419.90)">weight</text>
<text x="235.29" y="419.90" text-anchor="end" class="t" transform="rotate(-45 235.29 419.90)">ap_hi</text>
<text x="281.95" y="419.90" text-anchor="end" class="t" transform="rotate(-45 281.95 419.90)">ap_lo</text>
<text x="328.61" y="419.90" text-anchor="end" class="t" transform="rotate(-45 328.61 419.90)">cholesterol</text>
<text x="375.27" y="419.90" text-anchor="end" class="t" transform="rotate(-45 375.27 419.90)">gluc</text>
<text x="421.93" y="419.90" text-anchor="end" class="t" transform="rotate(-45 421.93 419.90)">smoke</text>
<text x="468.59" y="419.90" text-anchor="end" class="t" transform="rotate(-45 468.59 419.90)">alco</text>
<text x="515.25" y="419.90" text-anchor="end" class="t" transform="rotate(-45 515.25 419.90)">active</text>
<text x="561.91" y="419.90" text-anchor="end" class="t" transform="rotate(-45 561.91 419.90)">cardio</text>
<text x="608.57" y="419.90" text-anchor="end" class="t" transform="rotate(-45 608.57 419.90)">age_years</text>
<text x="655.23" y="419.90" text-anchor="end" class="t" transform="rotate(-45 655.23 419.90)">bmi</text>
</svg>
</body></html>
